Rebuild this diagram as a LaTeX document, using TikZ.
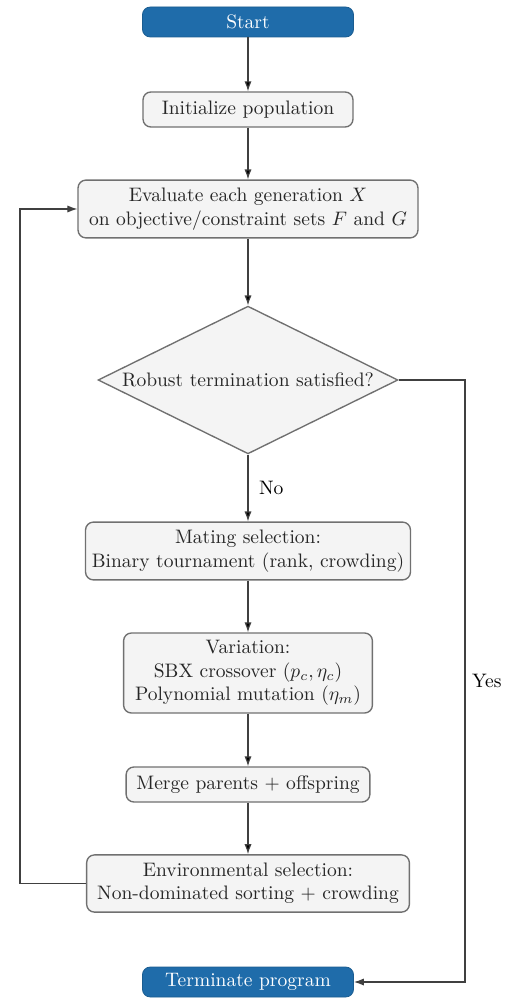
\documentclass[tikz,border=0pt]{standalone}
\usepackage{amsmath,amssymb}
\usetikzlibrary{arrows,arrows.meta,positioning,shapes.geometric}
\definecolor{startblue}{RGB}{31,108,170}
\definecolor{boxgray}{RGB}{244,244,244}
\definecolor{edgegray}{RGB}{112,112,112}
\tikzstyle{termbox}=[rectangle,rounded corners=4pt,fill=startblue,draw=startblue!85!black,text=white,minimum width=3.8cm,minimum height=0.54cm,inner sep=2pt]
\tikzstyle{procbox}=[rectangle,rounded corners=4pt,fill=boxgray,draw=edgegray,line width=0.7pt,align=center,inner sep=3pt,text=black!85]
\tikzstyle{decbox}=[diamond,aspect=2,fill=boxgray,draw=edgegray,line width=0.7pt,inner sep=0pt,minimum width=5.4cm,minimum height=2.66cm,text=black!85]
\tikzstyle{flow}=[draw=black!75,line width=0.6pt]

\begin{document}
\begin{tikzpicture}[x=0.018cm,y=-0.018cm,>={Latex[length=1.8mm,width=1.3mm]}]
\useasboundingbox (0,0) rectangle (513,998);
\node[termbox] (St) at (248,22) {Start};
\node[procbox,minimum width=3.78cm,minimum height=0.63cm] (In) at (248,109.5) {Initialize population};
\node[procbox,minimum width=6.12cm,minimum height=1.04cm] (Ev) at (248,209) {Evaluate each generation $X$\\ on objective/constraint sets $F$ and $G$};
\node[decbox] (Rt) at (248,380) {Robust termination satisfied?};
\node[procbox,minimum width=5.85cm,minimum height=1.04cm] (Ma) at (248,551) {Mating selection:\\ Binary tournament (rank, crowding)};
\node[procbox,minimum width=4.48cm,minimum height=1.44cm] (Va) at (248,673) {Variation:\\ SBX crossover $(p_c,\eta_c)$\\ Polynomial mutation $(\eta_m)$};
\node[procbox,minimum width=4.39cm,minimum height=0.63cm] (Me) at (248,784.5) {Merge parents $+$ offspring};
\node[procbox,minimum width=5.81cm,minimum height=1.03cm] (En) at (248,883.5) {Environmental selection:\\ Non-dominated sorting $+$ crowding};
\node[termbox] (Te) at (248,982) {Terminate program};
\coordinate (Lx) at (20,0);
\coordinate (Rx) at (465,0);
\path[->,flow]
(St) edge (In)
(In) edge (Ev)
(Ev) edge (Rt)
(Rt) edge node[right=2pt]{No} (Ma)
(Ma) edge (Va)
(Va) edge (Me)
(Me) edge (En);
% loop back and exit
\draw[->,flow] (En.west) -- (En.west -| Lx) -- (Ev.west -| Lx) -- (Ev.west);
\draw[->,flow] (Rt.east) -- (Rt.east -| Rx) -- node[right]{Yes} (Te.east -| Rx) -- (Te.east);
\end{tikzpicture}
\end{document}
